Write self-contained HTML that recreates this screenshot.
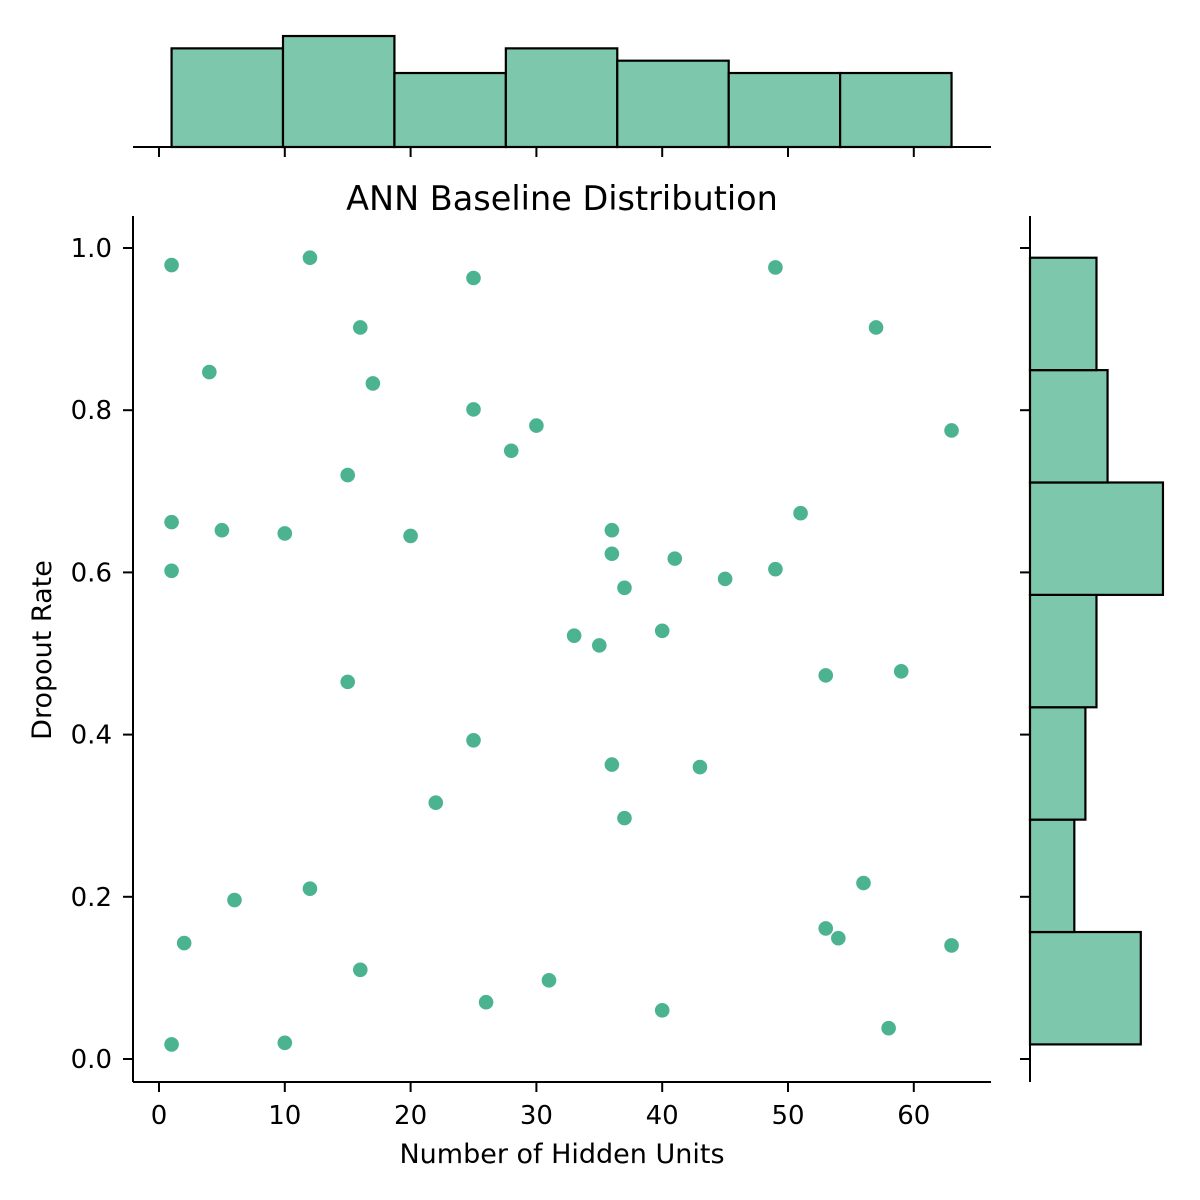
<!DOCTYPE html>
<html><head><meta charset="utf-8"><style>body{margin:0;background:#fff}svg{display:block}text{font-family:"DejaVu Sans","Liberation Sans",sans-serif;fill:#000}</style></head>
<body>
<svg id="c" width="1200" height="1200" xmlns="http://www.w3.org/2000/svg"></svg>
<script>
const hiddenUnits=[1,12,25,49,16,57,4,17,25,30,63,28,15,51,1,5,10,20,36,36,41,1,49,45,37,33,40,35,53,59,15,25,36,43,22,37,56,12,6,53,54,2,63,16,31,26,40,58,1,10];
const dropoutRate=[0.979,0.988,0.963,0.976,0.902,0.902,0.847,0.833,0.801,0.781,0.775,0.75,0.72,0.673,0.662,0.652,0.648,0.645,0.652,0.623,0.617,0.602,0.604,0.592,0.581,0.522,0.528,0.51,0.473,0.478,0.465,0.393,0.363,0.36,0.316,0.297,0.217,0.21,0.196,0.161,0.149,0.143,0.14,0.11,0.097,0.07,0.06,0.038,0.018,0.02];
const xTicks=[0,10,20,30,40,50,60];
const yTicks=[0.0,0.2,0.4,0.6,0.8,1.0];
const nBins=7;

const svg=document.getElementById('c');const NS='http://www.w3.org/2000/svg';
function mk(t,a,p){const e=document.createElementNS(NS,t);for(const k in a)e.setAttribute(k,a[k]);(p||svg).appendChild(e);return e;}
const X=v=>159+v*12.58, Y=v=>1059-v*811;
const L=133,R=991,T=216,B=1082;
function bins(d){const mn=Math.min(...d),mx=Math.max(...d),w=(mx-mn)/nBins;const c=new Array(nBins).fill(0);d.forEach(v=>{let i=Math.floor((v-mn)/w);if(i>=nBins)i=nBins-1;c[i]++;});return {mn,w,c};}
const hx=bins(hiddenUnits);
const gt=mk('g',{});
hx.c.forEach((c,i)=>{const x0=X(hx.mn+i*hx.w),x1=X(hx.mn+(i+1)*hx.w);const r=mk('rect',{x:x0,y:147-c*12.33,width:x1-x0,height:c*12.33,fill:'#7dc7ad',stroke:'#000','stroke-width':2.2},gt);});
mk('line',{x1:L,x2:R,y1:147,y2:147,stroke:'#000','stroke-width':2},gt);
xTicks.forEach(t=>mk('line',{x1:X(t),x2:X(t),y1:147,y2:157,stroke:'#000','stroke-width':2},gt));
const hy=bins(dropoutRate);
const gr=mk('g',{});
hy.c.forEach((c,i)=>{const y0=Y(hy.mn+(i+1)*hy.w),y1=Y(hy.mn+i*hy.w);const r=mk('rect',{x:1030,y:y0,width:c*11.08,height:y1-y0,fill:'#7dc7ad',stroke:'#000','stroke-width':2.2},gr);});
mk('line',{x1:1030,x2:1030,y1:T,y2:B,stroke:'#000','stroke-width':2},gr);
yTicks.forEach(t=>mk('line',{x1:1020,x2:1030,y1:Y(t),y2:Y(t),stroke:'#000','stroke-width':2},gr));
const gm=mk('g',{});
hiddenUnits.forEach((v,i)=>{const c=mk('circle',{cx:X(v),cy:Y(dropoutRate[i]),r:7.3,fill:'#4cb391'},gm);});
mk('line',{x1:L,x2:R,y1:B,y2:B,stroke:'#000','stroke-width':2},gm);
mk('line',{x1:L,x2:L,y1:T,y2:B,stroke:'#000','stroke-width':2},gm);
xTicks.forEach(t=>{mk('line',{x1:X(t),x2:X(t),y1:B,y2:B+10,stroke:'#000','stroke-width':2},gm);const tx=mk('text',{x:X(t),y:B+42,'text-anchor':'middle',style:'font-size:26px'},gm);tx.textContent=t;});
yTicks.forEach(t=>{mk('line',{x1:L-10,x2:L,y1:Y(t),y2:Y(t),stroke:'#000','stroke-width':2},gm);const tx=mk('text',{x:L-21,y:Y(t)+9,'text-anchor':'end',style:'font-size:26px'},gm);tx.textContent=t.toFixed(1);});
const ti=mk('text',{x:562,y:210,'text-anchor':'middle',style:'font-size:33.5px'});ti.textContent='ANN Baseline Distribution';

const xl=mk('text',{x:562,y:1163,'text-anchor':'middle',style:'font-size:27px'});xl.textContent='Number of Hidden Units';

const yl=mk('text',{x:0,y:0,'text-anchor':'middle',transform:'translate(51,650) rotate(-90)',style:'font-size:27px'});yl.textContent='Dropout Rate';

</script>
</body></html>
